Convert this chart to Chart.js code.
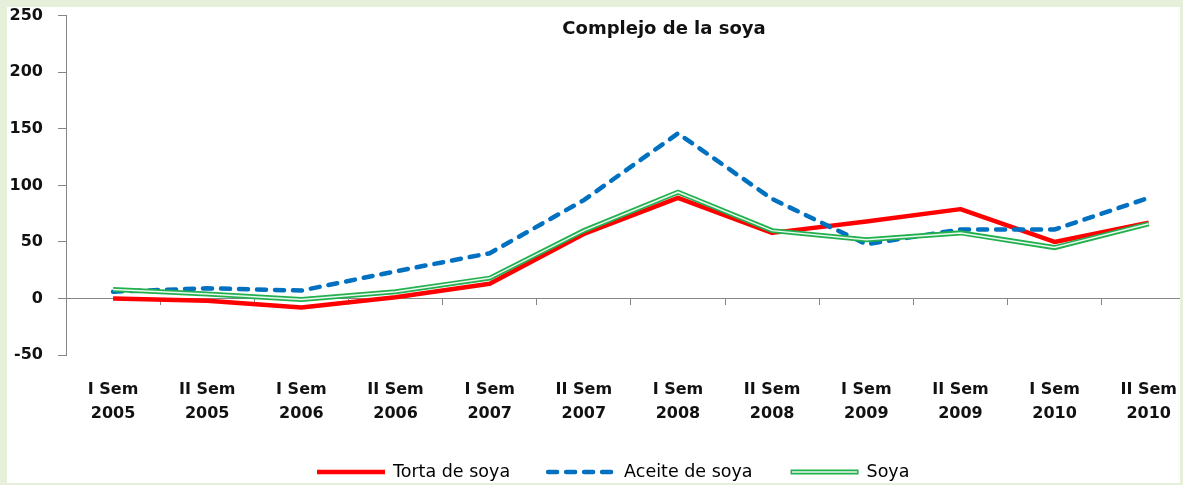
<!DOCTYPE html>
<html><head><meta charset="utf-8">
<script src="https://cdn.jsdelivr.net/npm/chart.js@4.4.1/dist/chart.umd.min.js"></script>
<style>
html,body{margin:0;padding:0;background:#e5efda;width:1183px;height:485px;overflow:hidden}
#panel{position:absolute;left:7px;top:7px;width:1173px;height:476px;background:#fff;overflow:hidden}
#wrap{position:absolute;left:-7px;top:-7px;width:1200px;height:485px}
</style></head><body>
<div id="panel"><div id="wrap"><canvas id="c" width="1200" height="485"></canvas></div></div>
<script>
const title = 'Complejo de la soya';
const categories = [
  ['I Sem','2005'],['II Sem','2005'],['I Sem','2006'],['II Sem','2006'],
  ['I Sem','2007'],['II Sem','2007'],['I Sem','2008'],['II Sem','2008'],
  ['I Sem','2009'],['II Sem','2009'],['I Sem','2010'],['II Sem','2010']
];
const seriesNames = ['Torta de soya','Aceite de soya','Soya'];
const tortaDeSoya  = [0, -2, -8, 1, 13, 57, 89, 58, 68, 79, 50, 67];
const aceiteDeSoya = [6, 9, 7, 24, 40, 87, 146, 88, 48, 61, 61, 89];
const soya         = [8, 4, -1, 6, 18, 60, 94, 60, 52, 58, 45, 66];
const yMin = -50, yMax = 250, yStep = 50;

const RED = '#ff0000', BLUE = '#0070c0', GREEN = '#22b04f', GREEN_IN = '#eaf8ef';
const AXIS = '#868686';
const FONT = 'DejaVu Sans';

const titlePlugin = {
  id: 'titleText',
  afterDraw(chart) {
    const ctx = chart.ctx;
    ctx.save();
    ctx.font = 'bold 18px "' + FONT + '"';
    ctx.fillStyle = '#111';
    ctx.textAlign = 'center';
    ctx.textBaseline = 'middle';
    ctx.fillText(title, 664, 29);
    ctx.restore();
  }
};

const legendPlugin = {
  id: 'customLegend',
  afterDraw(chart) {
    const ctx = chart.ctx;
    const items = [
      {text: seriesNames[0], color: RED, dash: [], w: 4.5},
      {text: seriesNames[1], color: BLUE, dash: [9, 9], w: 4.5},
      {text: seriesNames[2], color: GREEN, dash: [], w: 5, inner: GREEN_IN}
    ];
    const y = 472;
    let x = 315;
    ctx.save();
    ctx.font = '17.5px "' + FONT + '"';
    ctx.textBaseline = 'middle';
    ctx.textAlign = 'left';
    items.forEach(it => {
      ctx.beginPath();
      ctx.setLineDash(it.dash);
      ctx.lineWidth = it.w;
      ctx.strokeStyle = it.color;
      ctx.lineCap = it.dash.length ? 'round' : 'butt';
      ctx.moveTo(x + 2, y); ctx.lineTo(x + 70, y);
      ctx.stroke();
      if (it.inner) {
        ctx.beginPath();
        ctx.lineWidth = 1.5;
        ctx.strokeStyle = it.inner;
        ctx.moveTo(x + 3.5, y); ctx.lineTo(x + 68.5, y);
        ctx.stroke();
      }
      ctx.setLineDash([]);
      ctx.fillStyle = '#000';
      ctx.fillText(it.text, x + 78, y);
      x += 78 + ctx.measureText(it.text).width + 36;
    });
    ctx.restore();
  }
};

const tickFont = {family: FONT, size: 16, weight: 'bold', lineHeight: 1.5};

new Chart(document.getElementById('c'), {
  type: 'line',
  data: {
    labels: categories,
    datasets: [
      {label: seriesNames[0], data: tortaDeSoya, borderColor: RED, backgroundColor: RED, borderWidth: 4.5, pointRadius: 0, tension: 0, order: 3, borderJoinStyle: 'round'},
      {label: seriesNames[1], data: aceiteDeSoya, borderColor: BLUE, backgroundColor: BLUE, borderWidth: 4.5, borderDash: [9, 9], borderCapStyle: 'round', pointRadius: 0, tension: 0, order: 2},
      {label: seriesNames[2], data: soya, borderColor: GREEN, backgroundColor: GREEN, borderWidth: 5, pointRadius: 0, tension: 0, order: 1},
      {label: seriesNames[2] + ' (interior)', data: soya, borderColor: GREEN_IN, backgroundColor: GREEN_IN, borderWidth: 1.5, pointRadius: 0, tension: 0, order: 0}
    ]
  },
  options: {
    responsive: false,
    animation: false,
    devicePixelRatio: 1,
    layout: {padding: {top: 4, bottom: 0, left: 0, right: 0}},
    plugins: {legend: {display: false}, tooltip: {enabled: false}, title: {display: false}},
    scales: {
      x: {
        type: 'category',
        position: {y: 0},
        offset: true,
        grid: {display: true, drawOnChartArea: false, drawTicks: true, tickLength: 6, color: AXIS, offset: true},
        border: {display: true, color: AXIS, width: 1},
        ticks: {display: false}
      },
      xl: {
        type: 'category',
        labels: categories,
        position: 'bottom',
        offset: true,
        grid: {display: false, drawTicks: false},
        border: {display: false},
        ticks: {padding: 23, font: tickFont, color: '#111', maxRotation: 0, minRotation: 0, autoSkip: false},
        afterFit(a) { a.height = 130; }
      },
      y: {
        min: yMin, max: yMax,
        ticks: {stepSize: yStep, padding: 15, font: {family: FONT, size: 16, weight: 'bold', lineHeight: 0.1}, color: '#111'},
        grid: {drawOnChartArea: false, drawTicks: true, tickLength: 8, color: AXIS},
        border: {display: true, color: AXIS, width: 1},
        afterFit(a) { a.width = 66; }
      }
    }
  },
  plugins: [titlePlugin, legendPlugin]
});
</script>
</body></html>
